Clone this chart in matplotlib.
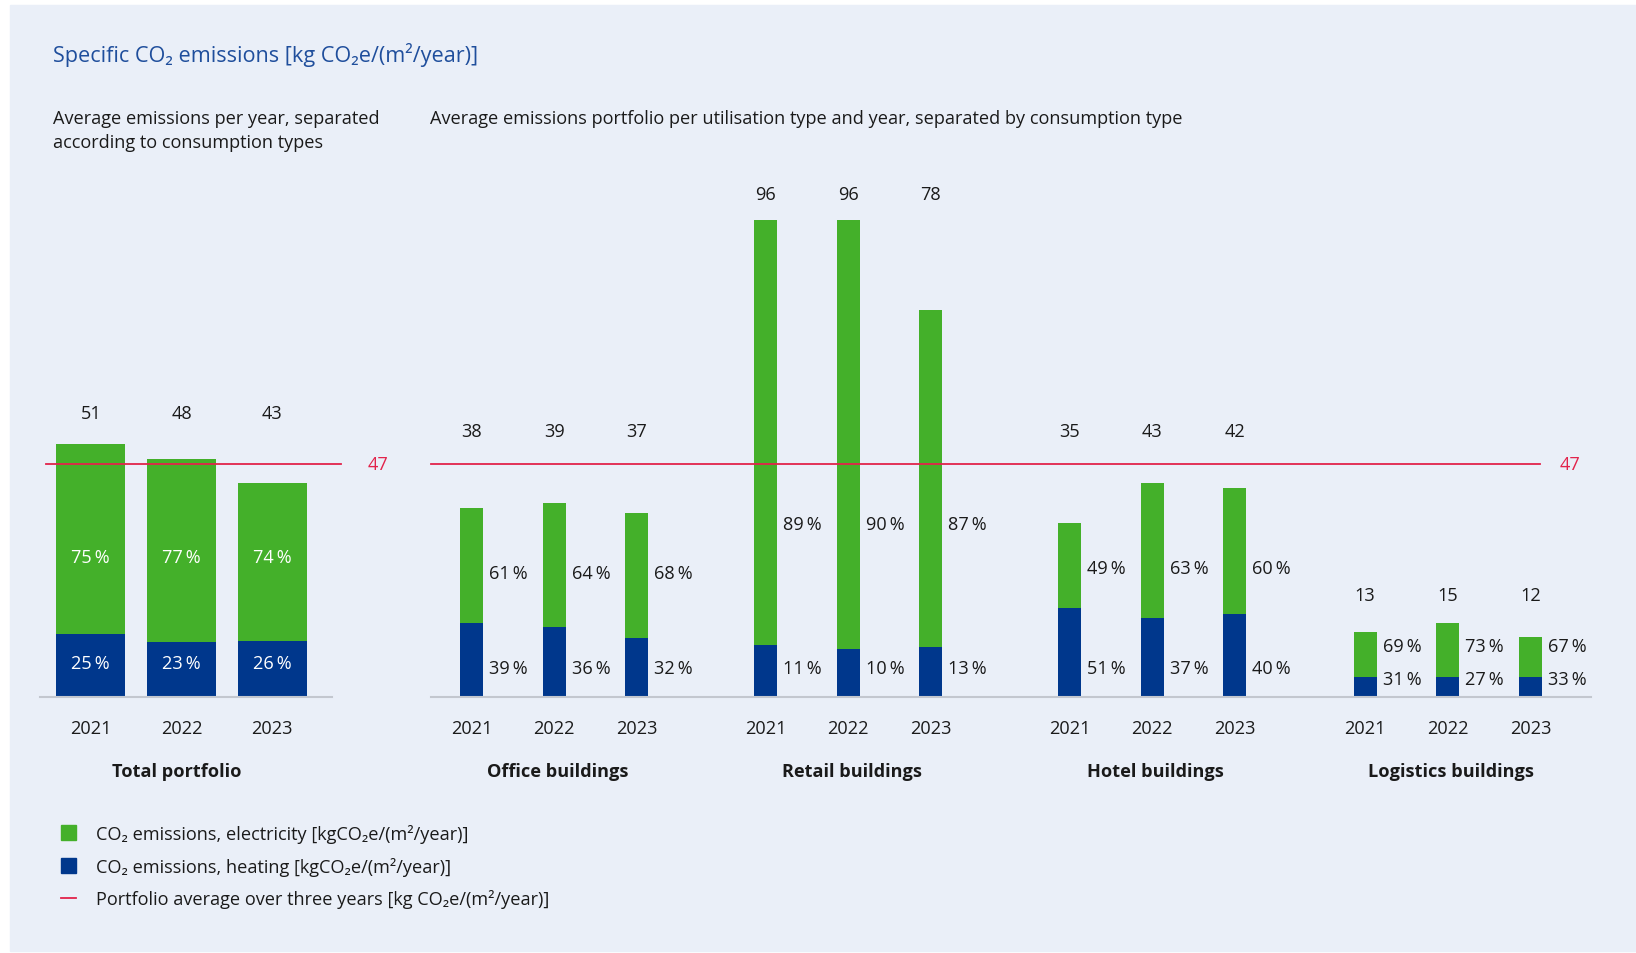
import matplotlib.pyplot as plt
from matplotlib.patches import Rectangle, Patch
from matplotlib.lines import Line2D

plt.rcParams['font.family'] = ['Open Sans', 'DejaVu Sans']

# data
years = ['2021', '2022', '2023']
total_values = [51, 48, 43]
total_heat_pct = [25, 23, 26]
total_elec_pct = [75, 77, 74]

groups = ['Office buildings', 'Retail buildings', 'Hotel buildings', 'Logistics buildings']
group_values = [[38, 39, 37], [96, 96, 78], [35, 43, 42], [13, 15, 12]]
group_elec_pct = [[61, 64, 68], [89, 90, 87], [49, 63, 60], [69, 73, 67]]
group_heat_pct = [[39, 36, 32], [11, 10, 13], [51, 37, 40], [31, 27, 33]]
portfolio_avg = 47

# colours
GREEN = '#44b02a'
BLUE = '#00378c'
RED = '#e2234b'
BG = '#eaeff8'
TXT = '#1a1a1a'

# layout (y positions of labels in data units)
total_label_y = 57.1
group_label_y = [53.6, 101.3, 53.6, 20.6]
group_elec_y = [25.0, 34.9, 26.05, 10.3]
group_heat_y = [5.9, 5.9, 5.9, 3.6]
group_pos = [0, 3.52, 7.16, 10.70]

W, H = 1636, 954
fig = plt.figure(figsize=(W / 100, H / 100), dpi=100)
fig.patch.set_facecolor('white')
fig.patches.append(Rectangle((10 / W, 1 - 952 / H), 1, (952 - 6) / H,
                             transform=fig.transFigure, color=BG, zorder=-5))

base = 698
top = 102
ax1 = fig.add_axes([0, 1 - base / H, 420 / W, (base - top) / H])
ax2 = fig.add_axes([420 / W, 1 - base / H, (W - 420) / W, (base - top) / H])
for ax in (ax1, ax2):
    ax.set_ylim(0, 120)
    ax.axis('off')
ax1.set_xlim(-1.0, 3.626)
ax2.set_xlim(-0.618, 13.944)

fs = 13.1

# ---- total portfolio ----
xs = list(range(len(years)))
heat = [v * p / 100 for v, p in zip(total_values, total_heat_pct)]
elec = [v - h for v, h in zip(total_values, heat)]
ax1.bar(xs, heat, width=0.76, color=BLUE, zorder=2)
ax1.bar(xs, elec, bottom=heat, width=0.76, color=GREEN, zorder=2)
ax1.plot([-0.564, 2.654], [0, 0], color='#c3c7cf', lw=1.5, zorder=3, clip_on=False)
ax1.plot([-0.494, 2.758], [portfolio_avg, portfolio_avg], color=RED, lw=1.3, zorder=4)
ax1.text(3.16, portfolio_avg, str(portfolio_avg), color=RED, fontsize=fs,
         ha='center', va='center')
for x, v, pe, ph, y in zip(xs, total_values, total_elec_pct, total_heat_pct, years):
    ax1.text(x, total_label_y, str(v), ha='center', va='center', fontsize=fs, color=TXT)
    ax1.text(x, 28.2, f'{pe}\u2009%', ha='center', va='center', fontsize=fs, color='white')
    ax1.text(x, 6.9, f'{ph}\u2009%', ha='center', va='center', fontsize=fs, color='white')
    ax1.text(x, -6.3, y, ha='center', va='center', fontsize=fs, color=TXT, clip_on=False)
ax1.text(0.95, -14.9, 'Total portfolio', ha='center', va='center', fontsize=fs,
         fontweight='bold', color=TXT, clip_on=False)

# ---- utilisation types ----
for g, name in enumerate(groups):
    gx = [group_pos[g] + i * 0.99 for i in range(len(years))]
    vals = group_values[g]
    h = [v * p / 100 for v, p in zip(vals, group_heat_pct[g])]
    e = [v - hh for v, hh in zip(vals, h)]
    ax2.bar(gx, h, width=0.275, color=BLUE, zorder=2)
    ax2.bar(gx, e, bottom=h, width=0.275, color=GREEN, zorder=2)
    for x, v, pe, ph, y in zip(gx, vals, group_elec_pct[g], group_heat_pct[g], years):
        ax2.text(x, group_label_y[g], str(v), ha='center', va='center', fontsize=fs, color=TXT)
        ax2.text(x + 0.21, group_elec_y[g], f'{pe}\u2009%', ha='left', va='center',
                 fontsize=fs, color=TXT)
        ax2.text(x + 0.21, group_heat_y[g], f'{ph}\u2009%', ha='left', va='center',
                 fontsize=fs, color=TXT)
        ax2.text(x, -6.3, y, ha='center', va='center', fontsize=fs, color=TXT, clip_on=False)
    ax2.text(gx[1] + 0.04, -14.9, name, ha='center', va='center', fontsize=fs,
             fontweight='bold', color=TXT, clip_on=False)
ax2.plot([-0.487, 13.41], [0, 0], color='#c3c7cf', lw=1.5, zorder=3, clip_on=False)
ax2.plot([-0.487, 12.80], [portfolio_avg, portfolio_avg], color=RED, lw=1.3, zorder=4)
ax2.text(13.15, portfolio_avg, str(portfolio_avg), color=RED, fontsize=fs,
         ha='center', va='center')

# ---- titles ----
fig.text(53 / W, 1 - 55 / H, 'Specific CO\u2082 emissions [kg CO\u2082e/(m\u00b2/year)]',
         color='#1f4e9c', fontsize=15.6, ha='left', va='center')
fig.text(53 / W, 1 - 110 / H, 'Average emissions per year, separated\naccording to consumption types',
         color=TXT, fontsize=fs, ha='left', va='top', linespacing=1.45)
fig.text(430 / W, 1 - 110 / H,
         'Average emissions portfolio per utilisation type and year, separated by consumption type',
         color=TXT, fontsize=fs, ha='left', va='top')

# ---- legend ----
handles = [Patch(color=GREEN), Patch(color=BLUE), Line2D([], [], color=RED, lw=1.3)]
labels = ['CO\u2082 emissions, electricity [kgCO\u2082e/(m\u00b2/year)]',
          'CO\u2082 emissions, heating [kgCO\u2082e/(m\u00b2/year)]',
          'Portfolio average over three years [kg CO\u2082e/(m\u00b2/year)]']
fig.legend(handles, labels, loc='upper left', bbox_to_anchor=(61 / W, 1 - 825 / H),
           frameon=False, fontsize=fs, handlelength=0.85, handleheight=0.85,
           handletextpad=1.1, labelspacing=0.75, borderaxespad=0, borderpad=0,
           labelcolor=TXT)

plt.savefig('out.png', dpi=100, facecolor=fig.get_facecolor())
